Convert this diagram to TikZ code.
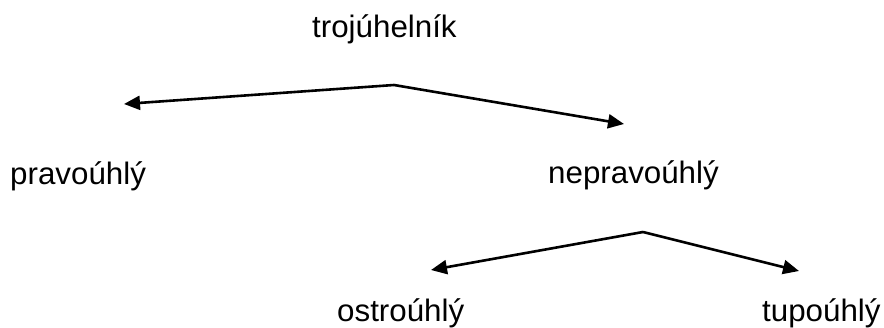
\documentclass[tikz,border=0pt]{standalone}
\usepackage{fontspec}
\setmainfont{Liberation Sans}
\usetikzlibrary{arrows.meta}
\newcommand{\stretchtxt}[1]{\scalebox{1.01}[1.0]{#1}}
\tikzset{
  lbl/.style={anchor=base west, inner sep=0pt, font=\fontsize{31}{34}\selectfont},
  conn/.style={line width=2.6pt, -{Triangle[length=16pt,width=14pt]}, line join=miter}
}
\begin{document}
\begin{tikzpicture}[x=1pt,y=-1pt]
\useasboundingbox (0,0) rectangle (884,327);
\node[lbl] (tri) at (312,37) {\stretchtxt{trojúhelník}};
\node[lbl] (prav) at (10,184) {\stretchtxt{pravoúhlý}};
\node[lbl] (neprav) at (548,183) {\stretchtxt{nepravoúhlý}};
\node[lbl] (ostr) at (337,321) {\stretchtxt{ostroúhlý}};
\node[lbl] (tupo) at (762,321) {\stretchtxt{tupoúhlý}};
\coordinate (a1) at (394,85);
\coordinate (t1) at (124,104);
\coordinate (t2) at (624,124);
\coordinate (a2) at (643,232);
\coordinate (t3) at (431,270);
\coordinate (t4) at (799,271);
\draw[conn] (a1) -- (t1);
\draw[conn] (a1) -- (t2);
\draw[conn] (a2) -- (t3);
\draw[conn] (a2) -- (t4);
\end{tikzpicture}
\end{document}
